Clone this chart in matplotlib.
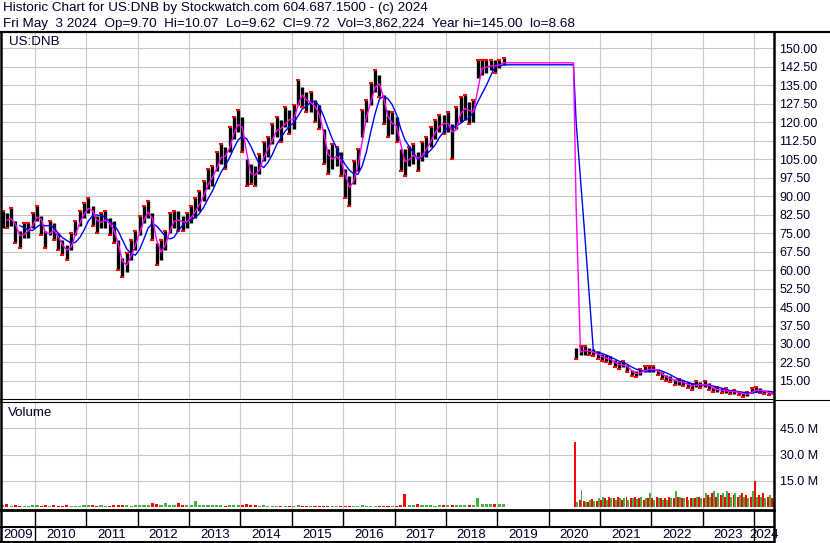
import numpy as np
import pandas as pd
import matplotlib
matplotlib.use('Agg')
import matplotlib.pyplot as plt
from matplotlib.lines import Line2D

W, H = 830, 543
plt.rcParams['font.family'] = ['Liberation Sans', 'DejaVu Sans']

# monthly high / low, May 2009 - Feb 2019
pre_high = [84, 83, 85, 80, 76, 79, 79, 83,
            86, 82, 76, 80, 79, 75, 72, 70, 75, 80, 84, 87,
            89, 86, 82, 83, 84, 81, 80, 72, 65, 67, 72, 76,
            82, 86, 88, 83, 71, 72, 76, 83, 84, 84, 82, 83,
            86, 89, 92, 96, 101, 102, 108, 111, 110, 118, 122, 125,
            122, 105, 103, 102, 107, 112, 114, 119, 122, 121, 126, 125,
            127, 137, 134, 132, 132, 129, 127, 117, 109, 111, 110, 108,
            101, 98, 104, 109, 125, 129, 136, 141, 139, 131, 125, 124,
            122, 109, 109, 110, 111, 108, 112, 114, 118, 121, 123, 123,
            124, 119, 126, 130, 131, 128, 129, 145, 145, 145, 145, 145,
            145, 146]
pre_low = [77, 77, 78, 71, 69, 73, 73, 77,
           80, 74, 69, 74, 72, 68, 66, 64, 68, 74, 78, 81,
           83, 78, 75, 77, 77, 74, 71, 60, 57, 59, 64, 68,
           74, 79, 81, 72, 62, 64, 68, 75, 77, 76, 76, 77,
           79, 81, 84, 88, 93, 94, 100, 103, 101, 108, 113, 116,
           108, 94, 95, 94, 99, 104, 106, 111, 114, 112, 118, 115,
           117, 127, 126, 124, 124, 120, 117, 103, 99, 101, 102, 98,
           89, 86, 95, 100, 114, 120, 127, 132, 130, 119, 114, 115,
           112, 100, 98, 102, 103, 100, 104, 106, 110, 113, 116, 115,
           116, 105, 117, 120, 121, 119, 120, 138, 139, 140, 141, 140,
           142, 143]

# monthly high / low, Jul 2020 - May 2024
post_high = [28.5, 29, 29, 28.5, 28, 27,
             26, 25.5, 25, 23.5, 22.5, 23, 21.5, 19.5, 19, 20, 21, 21,
             21, 20, 18.5, 17.5, 17, 16, 16, 15.5, 14.5, 14, 15, 14.5,
             15, 14, 12.5, 12.5, 12, 12, 11.5, 11.5, 11, 10.5, 10.5, 12,
             12.5, 12, 11.5, 10.5, 10.1]
post_low = [24, 25.5, 25.5, 25.5, 25, 24,
            23, 22.5, 22, 20.5, 20, 20.5, 18.5, 17, 16.5, 17.5, 18.5, 18.5,
            18.5, 17.5, 16, 15, 14.5, 13.5, 13.5, 13, 12, 11.5, 12.5, 12,
            12.5, 11.5, 10.5, 10.5, 10, 10, 9.8, 9.8, 9.3, 8.7, 8.8, 10,
            10.5, 10.2, 9.8, 9.2, 9.6]

# volume in millions
pre_vol = [1.0, 1.9, 0.9, 1.0, 0.9, 0.8, 0.9, 1.0,
           1.0, 0.9, 1.0, 0.8, 1.0, 0.9, 0.8, 1.0, 0.9, 0.8, 0.9, 1.0,
           1.1, 1.0, 0.9, 1.0, 0.9, 0.8, 1.0, 1.4, 1.2, 1.0, 0.9, 1.0,
           1.0, 1.1, 1.2, 2.5, 1.5, 1.2, 2.5, 1.2, 1.3, 2.5, 1.3, 1.2,
           1.3, 3.5, 1.2, 1.3, 1.1, 1.0, 1.2, 1.0, 0.9, 1.1, 1.0, 1.1,
           1.2, 2.0, 1.3, 1.0, 0.9, 1.0, 0.8, 0.9, 0.8, 0.9, 0.8, 0.9,
           0.8, 1.0, 0.8, 0.7, 0.8, 0.7, 0.8, 0.9, 0.8, 0.7, 0.8, 0.7,
           0.9, 0.8, 0.7, 0.8, 1.0, 0.8, 0.9, 0.8, 0.7, 0.9, 0.8, 0.8,
           0.9, 1.0, 7.6, 1.1, 1.0, 1.5, 1.2, 1.0, 1.1, 0.9, 1.2, 1.0,
           1.1, 1.3, 1.0, 1.4, 1.2, 1.0, 1.3, 5.3, 1.6, 1.5, 1.8, 1.6,
           2.0, 2.0]
post_vol_dn = [37.4, 4, 3.5, 3, 4.5, 3.5,
               4, 5, 6, 5, 6, 4, 6, 5, 6, 5, 4, 5,
               5, 6, 5, 5, 6, 5, 6, 5, 6, 5, 5, 6,
               5, 7, 8, 6, 7, 6, 8, 7, 6, 8, 7, 6,
               14.9, 7, 8, 6, 5]
post_vol_up = [3, 9.5, 3, 4, 3.5, 5,
               6, 4, 5, 4, 5, 5, 4, 5, 4.5, 6, 5, 8.3,
               4, 5, 4, 4, 5, 9, 6, 5, 4, 5, 6, 5,
               8, 6, 9, 8, 8, 9, 6, 8, 7, 6, 5, 9,
               6, 6, 5, 7, 4]

price_ticks = [15, 22.5, 30, 37.5, 45, 52.5, 60, 67.5, 75, 82.5, 90, 97.5,
               105, 112.5, 120, 127.5, 135, 142.5, 150]
vol_ticks = [15, 30, 45]
years = list(range(2009, 2025))

header1 = 'Historic Chart for US:DNB by Stockwatch.com 604.687.1500 - (c) 2024'
header2 = ('Fri May  3 2024  Op=9.70  Hi=10.07  Lo=9.62  Cl=9.72  '
           'Vol=3,862,224  Year hi=145.00  lo=8.68')

pre_dates = pd.date_range('2009-05-01', periods=len(pre_high), freq='MS') + pd.Timedelta(days=14)
post_dates = pd.date_range('2020-07-01', periods=len(post_high), freq='MS') + pd.Timedelta(days=14)

px = pd.concat([pd.DataFrame({'hi': pre_high, 'lo': pre_low}, index=pre_dates),
                pd.DataFrame({'hi': post_high, 'lo': post_low}, index=post_dates)])
px['mid'] = (px.hi + px.lo) / 2
px['fast'] = px.mid.rolling(2).mean()
px['slow'] = px.mid.rolling(5).mean()
px['up'] = px.mid.diff().fillna(0) >= 0

# averages are held flat through the trading halt, then resume
bridge = px.loc[[pre_dates[-1]], ['fast', 'slow']].copy()
bridge.index = [pd.Timestamp('2020-06-26')]
ma = pd.concat([px.loc[:pre_dates[-1], ['fast', 'slow']], bridge,
                px.loc[post_dates[0]:, ['fast', 'slow']]])

x0, x1 = pd.Timestamp('2009-05-04'), pd.Timestamp('2024-05-22')
bounds = [pd.Timestamp(f'{y}-01-01') for y in years[1:]]

fig = plt.figure(figsize=(W / 100, H / 100), dpi=100)
fig.patch.set_facecolor('white')


def fx(p):
    return p / W


def fy(p):
    return 1 - p / H


txt = '#000028'
grid = '#c8c8c8'

ax = fig.add_axes([fx(1), fy(399), fx(774) - fx(1), fy(32) - fy(399)])
axv = fig.add_axes([fx(1), fy(509), fx(774) - fx(1), fy(402) - fy(509)])
axl = fig.add_axes([fx(1), fy(543), fx(774) - fx(1), fy(510) - fy(543)])

for a in (ax, axv, axl):
    a.set_xlim(x0, x1)
    for s in a.spines.values():
        s.set_visible(False)
    a.set_xticks(bounds)
    a.tick_params(axis='x', length=0, labelbottom=False)

# price panel
ax.set_ylim(7.7, 156.5)
ax.yaxis.tick_right()
ax.set_yticks(price_ticks)
ax.set_yticklabels([f'{v:.2f}' for v in price_ticks])
ax.tick_params(axis='y', length=0, pad=4, labelsize=9, labelcolor=txt)
ax.grid(True, color=grid, lw=0.8)
ax.set_axisbelow(True)

ax.vlines(px.index, px.lo, px.hi, color='black', lw=2.4, zorder=3)
red_y = np.where(px.up, px.hi, px.lo)
ax.plot(px.index, red_y, ls='none', marker='_', ms=3, mew=1.5, color='red', zorder=4)
ax.plot(ma.index, ma.slow, color='#0000ff', lw=1.0, zorder=5)
ax.plot(ma.index, ma.fast, color='#ff00ff', lw=1.0, zorder=6)
ax.text(fx(8) / (fx(774) - fx(1)), 0.972, 'US:DNB', transform=ax.transAxes,
        fontsize=9.6, color=txt, va='center', ha='left')

# volume panel
axv.set_ylim(-1.1, 60.1)
axv.yaxis.tick_right()
axv.set_yticks(vol_ticks)
axv.set_yticklabels([f'{v:.1f} M' for v in vol_ticks])
axv.tick_params(axis='y', length=0, pad=4, labelsize=9, labelcolor=txt)
axv.grid(True, color=grid, lw=0.8)
axv.set_axisbelow(True)

pre_n = len(pre_dates)
pre_col = np.where(px.up.values[:pre_n], '#44b044', '#ff0000')
axv.bar(pre_dates, pre_vol, width=22, color=pre_col, zorder=3)
axv.bar(post_dates - pd.Timedelta(days=7), post_vol_dn, width=14, color='#ff0000', zorder=3)
axv.bar(post_dates + pd.Timedelta(days=7), post_vol_up, width=14, color='#44b044', zorder=3)
axv.text(fx(7) / (fx(774) - fx(1)), 0.9, 'Volume', transform=axv.transAxes,
         fontsize=9.6, color=txt, va='center', ha='left')

# year label strip
axl.set_ylim(0, 1)
axl.set_yticks([])
axl.vlines(bounds, 0.5, 1, color='black', lw=1)
axl.vlines([bounds[0], bounds[-1]], 0, 0.5, color='black', lw=1)
edges = [x0] + bounds + [x1]
for y, a, b in zip(years, edges[:-1], edges[1:]):
    axl.text(a + (b - a) / 2, 0.24, str(y), ha='center', va='center',
             fontsize=9.6, color=txt)

# frame lines
def hline(y, xa, xb, w):
    fig.add_artist(Line2D([fx(xa), fx(xb)], [fy(y), fy(y)], color='black', lw=w))


def vline(x, ya, yb, w):
    fig.add_artist(Line2D([fx(x), fx(x)], [fy(ya), fy(yb)], color='black', lw=w))


hline(31.5, 0, 830, 1.6)
hline(398.5, 0, 774, 0.8)
hline(401.5, 0, 774, 0.8)
hline(400, 774, 830, 0.8)
hline(510, 0, 774, 2.0)
hline(526.5, 0, 774, 1.5)
hline(542, 0, 774, 1.5)
vline(1, 31.5, 543, 1.8)
vline(774, 31.5, 543, 1.8)

fig.text(fx(3), fy(8), header1, fontsize=9.7, color=txt, va='center', ha='left')
fig.text(fx(3), fy(23.5), header2, fontsize=9.7, color=txt, va='center', ha='left')

fig.savefig('out.png', dpi=100)
